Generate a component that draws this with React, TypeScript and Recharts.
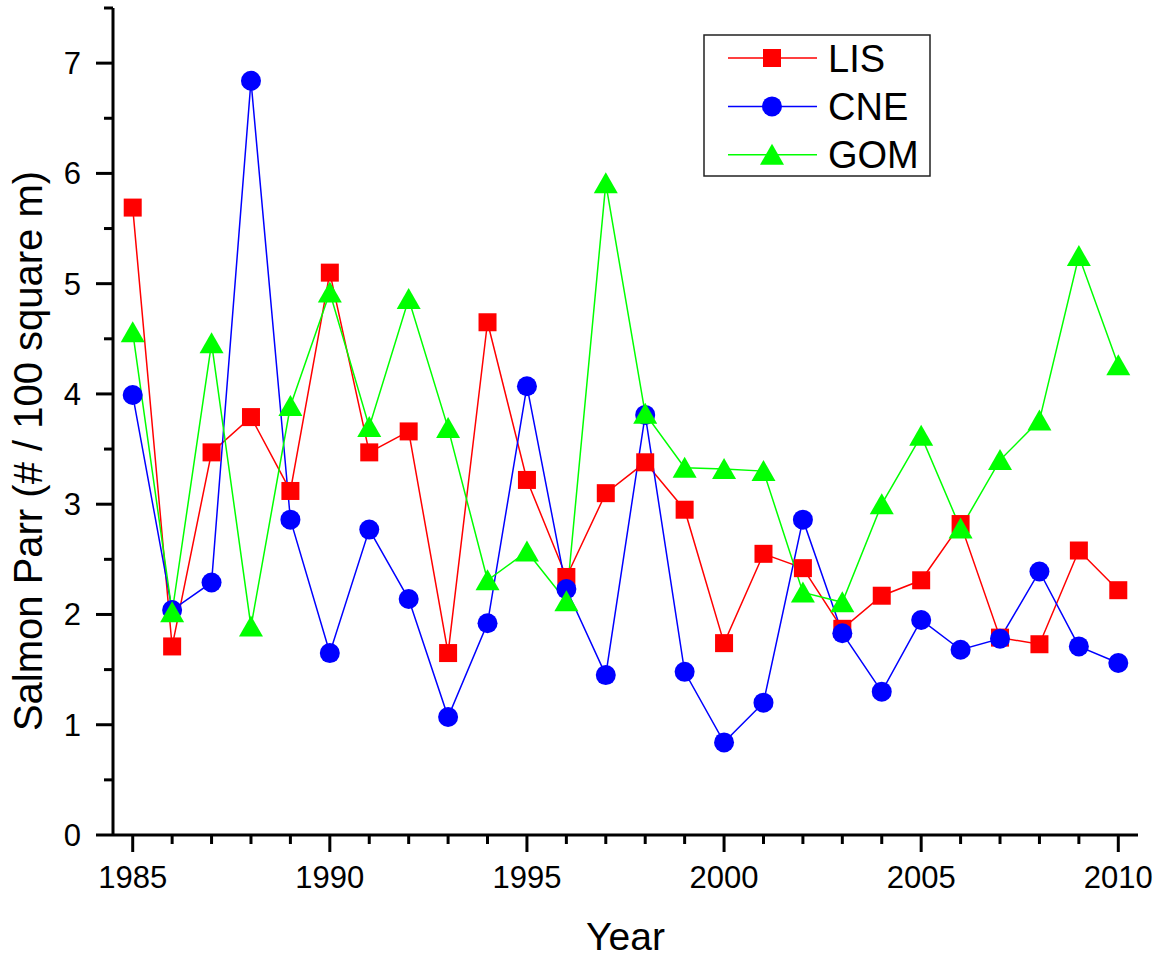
import React from 'react';
import { LineChart, Line, XAxis, YAxis, Legend } from 'recharts';

const YEARS = [
    1985, 1986, 1987, 1988, 1989, 1990, 1991, 1992, 1993, 1994, 1995, 1996, 1997,
    1998, 1999, 2000, 2001, 2002, 2003, 2004, 2005, 2006, 2007, 2008, 2009, 2010,
];
const LIS = [
    5.69, 1.71, 3.47, 3.79, 3.12, 5.1, 3.47, 3.66, 1.65, 4.65, 3.22, 2.34, 3.1,
    3.38, 2.95, 1.74, 2.55, 2.42, 1.87, 2.17, 2.31, 2.82, 1.79, 1.73, 2.58, 2.22,
];
const CNE = [
    3.99, 2.04, 2.29, 6.84, 2.86, 1.65, 2.77, 2.14, 1.07, 1.92, 4.07, 2.23, 1.45,
    3.81, 1.48, 0.84, 1.2, 2.86, 1.83, 1.3, 1.95, 1.68, 1.78, 2.39, 1.71, 1.56,
];
const GOM = [
    4.56, 2.02, 4.46, 1.89, 3.89, 4.92, 3.7, 4.86, 3.69, 2.31, 2.57, 2.12, 5.91,
    3.82, 3.33, 3.32, 3.3, 2.2, 2.11, 3.0, 3.62, 2.78, 3.4, 3.76, 5.25, 4.26,
];
const Y_TICKS = [0, 0.5, 1, 1.5, 2, 2.5, 3, 3.5, 4, 4.5, 5, 5.5, 6, 6.5, 7, 7.5];

type Shape = 'square' | 'circle' | 'triangle';

const SERIES: { key: string; color: string; shape: Shape }[] = [
    { key: 'LIS', color: '#ff0000', shape: 'square' },
    { key: 'CNE', color: '#0000ff', shape: 'circle' },
    { key: 'GOM', color: '#00ff00', shape: 'triangle' },
];

const data = YEARS.map((year, i) => ({ year, LIS: LIS[i], CNE: CNE[i], GOM: GOM[i] }));

const FONT = "Arial, 'Liberation Sans', sans-serif";

const marker = (shape: Shape, cx: number, cy: number, color: string, key?: string) => {
    if (shape === 'square') {
        return <rect key={key} x={cx - 9} y={cy - 9} width={18} height={18} fill={color} />;
    }
    if (shape === 'circle') {
        return <circle key={key} cx={cx} cy={cy} r={10} fill={color} />;
    }
    return (
        <polygon
            key={key}
            points={`${cx},${cy - 11} ${cx - 12},${cy + 10} ${cx + 12},${cy + 10}`}
            fill={color}
        />
    );
};

const XTick = (props: any) => {
    const { x, y, payload } = props;
    const major = payload.value % 5 === 0;
    return (
        <g>
            <line x1={x} y1={y} x2={x} y2={y + (major ? 17 : 9)} stroke="#000" strokeWidth={3} />
            {major && (
                <text x={x} y={y + 53} textAnchor="middle" fontSize={31} fontFamily={FONT} fill="#000">
                    {payload.value}
                </text>
            )}
        </g>
    );
};

const YTick = (props: any) => {
    const { x, y, payload } = props;
    const major = Number.isInteger(payload.value);
    return (
        <g>
            <line x1={x} y1={y} x2={x - (major ? 17 : 9)} y2={y} stroke="#000" strokeWidth={3} />
            {major && (
                <text x={x - 32} y={y + 11} textAnchor="end" fontSize={31} fontFamily={FONT} fill="#000">
                    {payload.value}
                </text>
            )}
        </g>
    );
};

const LegendBox = () => (
    <svg width={229} height={144}>
        <rect x={1} y={1} width={226} height={141} fill="#fff" stroke="#222" strokeWidth={1.5} />
        {SERIES.map((s, i) => {
            const cy = 24 + i * 48.4;
            return (
                <g key={s.key}>
                    <line x1={25} y1={cy} x2={114} y2={cy} stroke={s.color} strokeWidth={1.5} />
                    {marker(s.shape, 69, cy, s.color)}
                    <text x={125} y={cy + 13.6} fontSize={38} fontFamily={FONT} fill="#000">
                        {s.key}
                    </text>
                </g>
            );
        })}
    </svg>
);

export default function App() {
    return (
        <div style={{ position: 'absolute', left: 0, top: 0, width: 1162, height: 958, background: '#fff' }}>
            <LineChart width={1162} height={958} data={data} margin={{ top: 8, right: 24, bottom: 0, left: 0 }}>
                <XAxis
                    dataKey="year"
                    type="number"
                    domain={[1984.5, 2010.5]}
                    ticks={YEARS}
                    interval={0}
                    height={123}
                    tickSize={0}
                    tickMargin={0}
                    tickLine={false}
                    tick={<XTick />}
                    axisLine={{ stroke: '#000', strokeWidth: 3 }}
                    label={{
                        value: 'Year',
                        content: (p: any) => (
                            <text
                                x={p.viewBox.x + p.viewBox.width / 2}
                                y={950}
                                textAnchor="middle"
                                fontSize={39}
                                fontFamily={FONT}
                                fill="#000"
                            >
                                Year
                            </text>
                        ),
                    }}
                />
                <YAxis
                    type="number"
                    domain={[0, 7.5]}
                    ticks={Y_TICKS}
                    interval={0}
                    width={113}
                    tickSize={0}
                    tickMargin={0}
                    tickLine={false}
                    tick={<YTick />}
                    axisLine={{ stroke: '#000', strokeWidth: 3 }}
                    label={{
                        value: 'Salmon Parr (# / 100 square m)',
                        content: () => (
                            <text
                                transform="translate(42, 451) rotate(-90)"
                                textAnchor="middle"
                                fontSize={40}
                                fontFamily={FONT}
                                fill="#000"
                            >
                                Salmon Parr (# / 100 square m)
                            </text>
                        ),
                    }}
                />
                <Legend
                    layout="vertical"
                    align="center"
                    verticalAlign="middle"
                    wrapperStyle={{ position: 'absolute', left: 703, top: 34, width: 229, height: 144 }}
                    content={() => <LegendBox />}
                />
                {SERIES.map((s) => (
                    <Line
                        key={s.key}
                        type="linear"
                        dataKey={s.key}
                        stroke={s.color}
                        strokeWidth={1.5}
                        isAnimationActive={false}
                        activeDot={false}
                        dot={(p: any) => marker(s.shape, p.cx, p.cy, s.color, `${s.key}-${p.index}`)}
                    />
                ))}
            </LineChart>
        </div>
    );
}
